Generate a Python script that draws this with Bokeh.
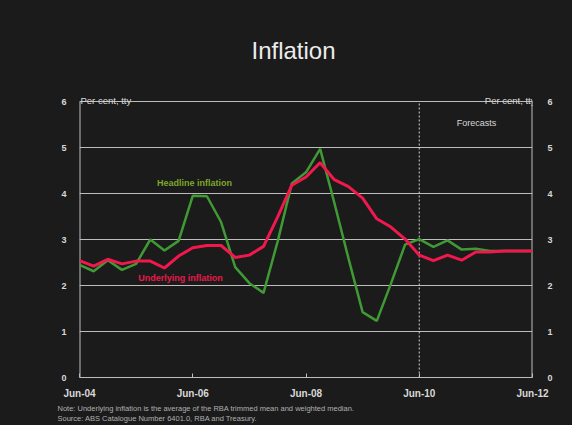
from bokeh.plotting import figure
from bokeh.models import LinearAxis, FixedTicker, Label, Range1d, Title
from bokeh.embed import file_html
from bokeh.resources import INLINE

# ---- data (quarterly, Jun-04 .. Jun-12), per cent through the year ----
headline = [2.45, 2.31, 2.55, 2.34, 2.47, 3.00, 2.76, 2.97, 3.95, 3.94,
            3.38, 2.40, 2.05, 1.84, 2.96, 4.22, 4.46, 4.97, 3.80, 2.59,
            1.42, 1.23, 2.04, 2.89, 3.01, 2.84, 2.98, 2.78, 2.80, 2.75,
            2.75, 2.75, 2.75]
underlying = [2.54, 2.42, 2.57, 2.47, 2.53, 2.53, 2.38, 2.64, 2.82, 2.87,
              2.87, 2.61, 2.66, 2.85, 3.49, 4.18, 4.36, 4.67, 4.30, 4.15,
              3.90, 3.45, 3.27, 3.01, 2.66, 2.54, 2.66, 2.55, 2.73, 2.73,
              2.75, 2.75, 2.75]
x_ticks = [0, 8, 16, 24, 32]
x_tick_labels = ["Jun-04", "Jun-06", "Jun-08", "Jun-10", "Jun-12"]
y_ticks = [0, 1, 2, 3, 4, 5, 6]
y_max = 6
forecast_start = 24
quarters = list(range(len(headline)))

BG = "#1b1b1b"
GRID = "#bdbdbd"
TXT = "#d8d8d8"
NOTE = "#b0b0b0"
FONT = "Liberation Sans"

# ---- layout (pixels) ----
W, H = 572, 425
B_LEFT, B_RIGHT, B_BOTTOM = 79, 40, 48
frame_w = W - B_LEFT - B_RIGHT
frame_h = H - B_BOTTOM          # frame reaches the top of the canvas
top_line_px = 101               # canvas y of the top (6 %) grid line
ppu_y = (frame_h - top_line_px) / y_max
ppu_x = frame_w / (len(quarters) - 1)


def to_data(cx, cy):
    """canvas pixel -> data coordinates (for annotation placement only)"""
    return (cx - B_LEFT) / ppu_x, (frame_h - cy) / ppu_y


p = figure(width=W, height=H, output_backend="svg", toolbar_location=None,
           x_range=Range1d(0, len(quarters) - 1),
           y_range=Range1d(0, frame_h / ppu_y),
           min_border_left=B_LEFT, min_border_right=B_RIGHT,
           min_border_top=0, min_border_bottom=B_BOTTOM,
           background_fill_color=BG, border_fill_color=BG)
p.outline_line_color = None
p.styles = {"background-color": BG}

# axes
p.yaxis.ticker = FixedTicker(ticks=y_ticks)
p.xaxis.ticker = FixedTicker(ticks=x_ticks)
p.xaxis.major_label_overrides = {t: l for t, l in zip(x_ticks, x_tick_labels)}
p.add_layout(LinearAxis(ticker=FixedTicker(ticks=y_ticks)), "right")

for ax in p.yaxis:
    ax.axis_line_color = None
    ax.major_tick_line_color = None
    ax.minor_tick_line_color = None
    ax.major_label_text_color = TXT
    ax.major_label_text_font = FONT
    ax.major_label_text_font_size = "9px"
    ax.major_label_text_font_style = "bold"
p.yaxis[0].major_label_standoff = 7
p.yaxis[1].major_label_standoff = 9

p.xaxis.axis_line_color = GRID
p.xaxis.major_tick_line_color = GRID
p.xaxis.major_tick_in = 4
p.xaxis.major_tick_out = 0
p.xaxis.minor_tick_line_color = None
p.xaxis.major_label_text_color = TXT
p.xaxis.major_label_text_font = FONT
p.xaxis.major_label_text_font_size = "10px"
p.xaxis.major_label_text_font_style = "bold"
p.xaxis.major_label_standoff = 10

p.xgrid.grid_line_color = None
p.ygrid.grid_line_color = GRID
p.ygrid.grid_line_width = 1

# left / right sides of the chart box (only up to the 6 % line)
x_first, x_last = quarters[0], quarters[-1]
p.line([x_first, x_first], [0, y_max], line_color=GRID, line_width=2)
p.line([x_last, x_last], [0, y_max], line_color=GRID, line_width=2)

# forecast divider
p.line([forecast_start, forecast_start], [0, y_max],
       line_color="#d0d0d0", line_dash="2 2", line_width=1)

# series
p.line(quarters, headline, line_color="#3f9a35", line_width=2.5)
p.line(quarters, underlying, line_color="#f0184c", line_width=3)


def lab(cx, cy, text, color=TXT, size="10px", align="left", base="middle", style="normal"):
    x, y = to_data(cx, cy)
    p.add_layout(Label(x=x, y=y, text=text, text_color=color, text_font=FONT,
                       text_font_size=size, text_align=align, text_baseline=base,
                       text_font_style=style))


lab(293, 50, "Inflation", color="#ececec", size="24px", align="center")
lab(80, 100, "Per cent, tty", size="9.5px", base="alphabetic")
lab(535, 100, "Per cent, tty", size="9.5px", align="right", base="alphabetic")
lab(476, 122.5, "Forecasts", size="9px", align="center")
lab(194, 182, "Headline inflation", color="#7ea82a", size="9px", align="center", style="bold")
lab(180, 277.5, "Underlying inflation", color="#e8194e", size="9px", align="center", style="bold")

notes = ["Note:  Underlying inflation is the average of the RBA trimmed mean and weighted median.",
         "Source:  ABS Catalogue Number 6401.0, RBA and Treasury."]
p.add_layout(Title(text="\n".join(notes), align="left", offset=-22, standoff=0,
                   text_color=NOTE, text_font=FONT, text_font_size="7.5px",
                   text_font_style="normal", text_line_height=1.2), "below")

open("out.html", "w").write(file_html(p, INLINE))
